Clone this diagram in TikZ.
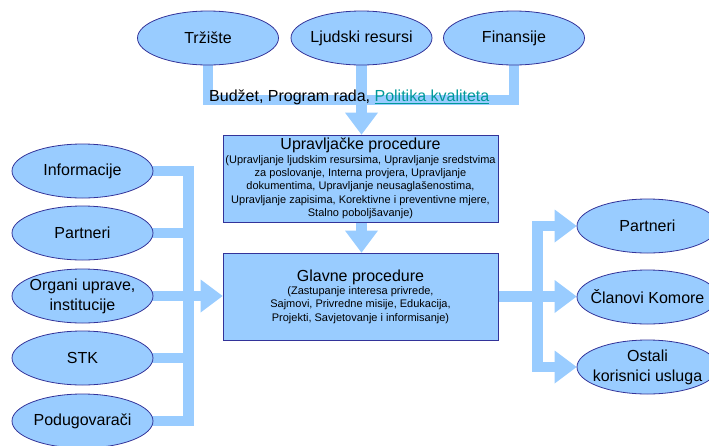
\documentclass[tikz,border=0pt]{standalone}
\usepackage{fontspec}
\setmainfont{Liberation Sans}
\usetikzlibrary{shapes.geometric,arrows.meta,backgrounds,positioning}
\definecolor{lightblue}{HTML}{99CCFF}
\definecolor{navyline}{HTML}{333399}
\definecolor{linkteal}{HTML}{009999}
\newcommand{\bigtxt}{\fontsize{16}{20}\selectfont}
\newcommand{\smalltxt}{\fontsize{11}{13.3}\selectfont}

\begin{document}
\begin{tikzpicture}[x=1pt,y=-1pt,
	srcnode/.style={ellipse,draw=navyline,fill=lightblue,line width=.8pt,minimum width=141pt,minimum height=54pt,inner xsep=-20pt,inner ysep=0pt,align=center,font=\bigtxt},
	procnode/.style={rectangle,draw=navyline,fill=lightblue,line width=.8pt,minimum width=275pt,minimum height=87pt,inner sep=0pt,align=center,font=\smalltxt},
	bar/.style={draw=lightblue,line width=10.5pt},
	bararrow/.style={bar,-{Triangle[width=33pt,length=22pt,line width=0pt]}},
	%bar/.style={draw=lightblue,line width=10pt},
	]
	\useasboundingbox (0,0) rectangle (709,445);
	% top row
	\node (trz) [srcnode] at (208,38) {Tržište};
	\node (ljud) [srcnode] at (361.5,38) {Ljudski resursi};
	\node (fin) [srcnode] at (514,38) {Finansije};
	\node (budzet) [anchor=base west,inner sep=0pt,font=\bigtxt] at (209,101.5) {Budžet, Program rada, \textcolor{linkteal}{\underline{Politika kvaliteta}}};
	% procedures
	\node (upr) [procnode] at (360.5,178.5) {{\bigtxt Upravljačke procedure}\\(Upravljanje ljudskim resursima, Upravljanje sredstvima\\za poslovanje, Interna provjera, Upravljanje\\dokumentima, Upravljanje neusaglašenostima,\\Upravljanje zapisima, Korektivne i preventivne mjere,\\Stalno poboljšavanje)};
	\node (glavne) [procnode] at (360.5,296.5) {{\bigtxt Glavne procedure}\\(Zastupanje interesa privrede,\\Sajmovi, Privredne misije, Edukacija,\\Projekti, Savjetovanje i informisanje)};
	% inputs
	\node (info) [srcnode] at (82.5,171) {Informacije};
	\node (part) [srcnode] at (82.5,233) {Partneri};
	\node (org) [srcnode] at (82.5,296) {Organi uprave,\\institucije};
	\node (stk) [srcnode] at (82.5,358) {STK};
	\node (podu) [srcnode] at (82.5,421) {Podugovarači};
	% outputs
	\node (partR) [srcnode] at (647.5,226) {Partneri};
	\node (clan) [srcnode] at (647.5,297) {Članovi Komore};
	\node (ostR) [srcnode] at (647.5,367) {Ostali\\korisnici usluga};
	\coordinate (topjoin) at (361.5,100);
	\coordinate (leftjoin) at (188.5,296);
	\coordinate (rightjoin) at (537.5,296);
	\begin{pgfonlayer}{background}
		\draw[bar] (trz.center) |- (topjoin) -| (fin.center);
		\draw[bararrow] (ljud.center) -- (ljud.center |- upr.north);
		\draw[bararrow] (upr.south -| ljud) -- (glavne.north -| ljud);
		\draw[bar] (info.center) -| (leftjoin) |- (podu.center);
		\draw[bar] (part.center) -- (part.center -| leftjoin);
		\draw[bar] (stk.center) -- (stk.center -| leftjoin);
		\draw[bararrow] (org.center) -- (org.center -| glavne.west);
		\draw[bararrow] (glavne.east) -- (glavne.east -| clan.west);
		\draw[bar,{Triangle[width=33pt,length=22pt,line width=0pt]}-{Triangle[width=33pt,length=22pt,line width=0pt]}] (partR.west) -| (rightjoin) |- (ostR.west);
	\end{pgfonlayer}
\end{tikzpicture}
\end{document}
